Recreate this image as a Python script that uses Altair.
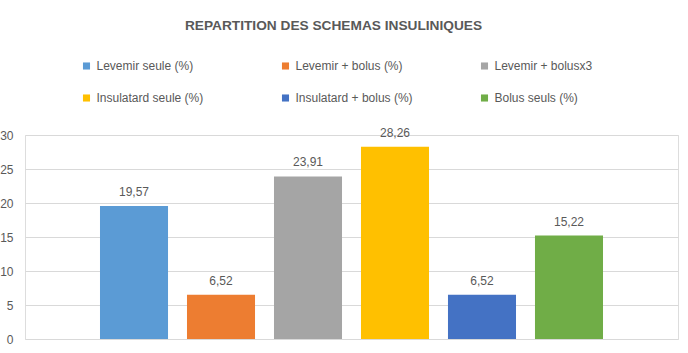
import altair as alt
import pandas as pd

series = ["Levemir seule (%)", "Levemir + bolus (%)", "Levemir + bolusx3",
          "Insulatard seule (%)", "Insulatard + bolus (%)", "Bolus seuls (%)"]
values = [19.57, 6.52, 23.91, 28.26, 6.52, 15.22]
colors = ["#5B9BD5", "#ED7D31", "#A5A5A5", "#FFC000", "#4472C4", "#70AD47"]

df = pd.DataFrame({
    "serie": series,
    "valeur": values,
    "label": [f"{v:.2f}".replace(".", ",") for v in values],
})

# legend fills column by column: order entries so rows read like the reference
legend_order = [0, 3, 1, 4, 2, 5]
dom = [series[i] for i in legend_order]
rng = [colors[i] for i in legend_order]

FONT = "Liberation Sans"
GREY = "#595959"

base = alt.Chart(df).encode(
    x=alt.X("serie:N", sort=series, axis=None,
            scale=alt.Scale(paddingInner=0.218, paddingOuter=0.862)),
    y=alt.Y("valeur:Q", scale=alt.Scale(domain=[0, 30], nice=False),
            axis=alt.Axis(values=[0, 5, 10, 15, 20, 25, 30], title=None,
                          domain=False, ticks=False, labelPadding=12,
                          labelColor=GREY, labelFont=FONT, labelFontSize=12,
                          gridColor="#D9D9D9", gridWidth=1)),
)

bars = base.mark_bar().encode(
    color=alt.Color("serie:N",
                    scale=alt.Scale(domain=dom, range=rng),
                    legend=alt.Legend(title=None, orient="none",
                                      legendX=55.5, legendY=-75,
                                      columns=3, gridAlign="all",
                                      columnPadding=65, rowPadding=20,
                                      symbolType="square", symbolSize=50,
                                      symbolStrokeWidth=0, labelOffset=4,
                                      labelFont=FONT, labelFontSize=12,
                                      labelColor=GREY, labelLimit=300))
)

labels = base.mark_text(baseline="middle", dy=-14, font=FONT, fontSize=12,
                        color=GREY).encode(text="label:N")

chart = (bars + labels).properties(
    width=653, height=204,
    title=alt.TitleParams("REPARTITION DES SCHEMAS INSULINIQUES",
                          font=FONT, fontSize=13.7, fontWeight="bold",
                          color=GREY, anchor="middle", offset=27, dx=-18),
    padding={"left": 25, "top": 135, "right": 10, "bottom": 14},
    autosize=alt.AutoSizeParams(type="none"),
).configure_view(stroke=None).configure(background="white")

chart.save("out.html", embed_options={"renderer": "svg", "actions": False})
